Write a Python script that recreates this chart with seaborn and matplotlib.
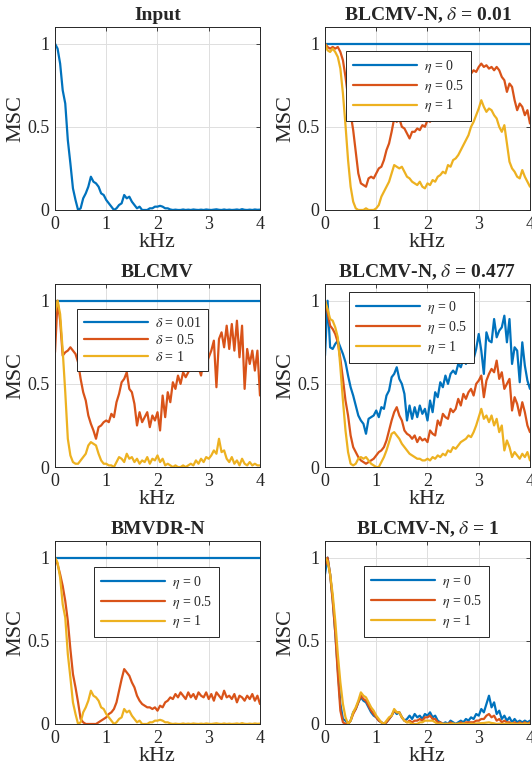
import numpy as np
import pandas as pd
import matplotlib
matplotlib.use("Agg")
import matplotlib.pyplot as plt
import seaborn as sns

# frequency grid (kHz) shared by the measured curves
khz = np.linspace(0, 4, 81)
# constant curves only need their end points
flat_khz = [0.0, 4.0]
flat_msc = [1.0, 1.0]

input_msc = [1.00, 0.97, 0.88, 0.72, 0.64, 0.42, 0.28, 0.13, 0.06, 0.00,
             0.01, 0.07, 0.10, 0.14, 0.20, 0.17, 0.16, 0.14, 0.10, 0.09,
             0.06, 0.04, 0.02, 0.00, 0.01, 0.03, 0.04, 0.09, 0.07, 0.08,
             0.05, 0.03, 0.01, 0.02, 0.00, 0.00, 0.00, 0.01, 0.01, 0.02,
             0.02, 0.025, 0.02, 0.01, 0.01, 0.003, 0.00, 0.002, 0.00, 0.00,
             0.003, 0.00, 0.002, 0.00, 0.003, 0.001, 0.00, 0.002, 0.00, 0.003,
             0.001, 0.00, 0.002, 0.004, 0.001, 0.00, 0.003, 0.00, 0.002, 0.00,
             0.001, 0.003, 0.00, 0.005, 0.001, 0.00, 0.002, 0.00, 0.003, 0.001,
             0.002]

# BLCMV-N, delta = 0.01
n001_eta05 = [1.00, 0.98, 0.97, 0.98, 0.97, 0.98, 0.95, 0.90, 0.80, 0.68,
              0.58, 0.48, 0.35, 0.22, 0.16, 0.15, 0.14, 0.19, 0.20, 0.19,
              0.22, 0.25, 0.26, 0.30, 0.36, 0.40, 0.47, 0.55, 0.53, 0.55,
              0.50, 0.49, 0.46, 0.43, 0.47, 0.47, 0.49, 0.48, 0.51, 0.50,
              0.54, 0.53, 0.56, 0.55, 0.58, 0.58, 0.60, 0.63, 0.65, 0.68,
              0.70, 0.72, 0.74, 0.76, 0.78, 0.79, 0.80, 0.82, 0.84, 0.83,
              0.86, 0.88, 0.86, 0.87, 0.85, 0.86, 0.84, 0.86, 0.84, 0.80,
              0.78, 0.71, 0.76, 0.74, 0.66, 0.60, 0.64, 0.62, 0.57, 0.60,
              0.52]
n001_eta1 = [1.00, 0.96, 0.95, 0.97, 0.95, 0.92, 0.85, 0.70, 0.51, 0.30,
             0.14, 0.05, 0.01, 0.00, 0.00, 0.00, 0.01, 0.00, 0.00, 0.00,
             0.01, 0.03, 0.08, 0.11, 0.14, 0.17, 0.22, 0.27, 0.26, 0.25,
             0.26, 0.23, 0.20, 0.19, 0.17, 0.16, 0.15, 0.17, 0.14, 0.13,
             0.16, 0.15, 0.18, 0.17, 0.20, 0.21, 0.23, 0.22, 0.27, 0.26,
             0.30, 0.31, 0.33, 0.36, 0.39, 0.42, 0.45, 0.50, 0.53, 0.57,
             0.61, 0.66, 0.62, 0.59, 0.61, 0.60, 0.57, 0.55, 0.50, 0.47,
             0.51, 0.40, 0.29, 0.25, 0.23, 0.20, 0.19, 0.24, 0.20, 0.17,
             0.14]

# BLCMV
blcmv_d05 = [0.69, 1.00, 0.88, 0.67, 0.69, 0.70, 0.72, 0.70, 0.68, 0.63,
             0.53, 0.45, 0.40, 0.31, 0.26, 0.22, 0.17, 0.24, 0.25, 0.27,
             0.28, 0.27, 0.32, 0.30, 0.39, 0.44, 0.51, 0.53, 0.57, 0.47,
             0.45, 0.38, 0.25, 0.33, 0.27, 0.30, 0.33, 0.24, 0.31, 0.28,
             0.33, 0.22, 0.43, 0.30, 0.45, 0.39, 0.51, 0.47, 0.55, 0.50,
             0.57, 0.54, 0.57, 0.60, 0.63, 0.58, 0.60, 0.55, 0.64, 0.62,
             0.66, 0.70, 0.76, 0.48, 0.77, 0.81, 0.72, 0.85, 0.71, 0.86,
             0.70, 0.88, 0.66, 0.85, 0.47, 0.71, 0.62, 0.70, 0.58, 0.70,
             0.43]
blcmv_d1 = [0.93, 1.00, 0.92, 0.70, 0.45, 0.17, 0.07, 0.03, 0.02, 0.02,
            0.04, 0.06, 0.08, 0.13, 0.15, 0.14, 0.13, 0.08, 0.04, 0.02,
            0.02, 0.01, 0.01, 0.00, 0.03, 0.06, 0.05, 0.03, 0.08, 0.05,
            0.06, 0.03, 0.05, 0.02, 0.04, 0.03, 0.06, 0.02, 0.05, 0.04,
            0.07, 0.03, 0.05, 0.01, 0.02, 0.01, 0.00, 0.01, 0.00, 0.00,
            0.01, 0.00, 0.01, 0.02, 0.01, 0.04, 0.02, 0.05, 0.03, 0.06,
            0.05, 0.07, 0.10, 0.08, 0.17, 0.09, 0.10, 0.05, 0.03, 0.06,
            0.02, 0.04, 0.01, 0.05, 0.02, 0.01, 0.03, 0.01, 0.02, 0.01,
            0.01]

# BLCMV-N, delta = 0.477
n477_eta0 = [0.67, 1.00, 0.72, 0.71, 0.74, 0.76, 0.72, 0.68, 0.63, 0.55,
             0.48, 0.43, 0.37, 0.31, 0.28, 0.26, 0.20, 0.29, 0.30, 0.31,
             0.34, 0.30, 0.36, 0.35, 0.43, 0.46, 0.54, 0.56, 0.60, 0.53,
             0.50, 0.44, 0.28, 0.37, 0.29, 0.36, 0.30, 0.37, 0.32, 0.35,
             0.28, 0.40, 0.33, 0.45, 0.42, 0.51, 0.48, 0.55, 0.50, 0.56,
             0.58, 0.56, 0.62, 0.60, 0.65, 0.62, 0.68, 0.70, 0.65, 0.71,
             0.80, 0.70, 0.56, 0.81, 0.76, 0.75, 0.89, 0.78, 0.82, 0.84,
             0.91, 0.75, 0.89, 0.62, 0.72, 0.70, 0.51, 0.75, 0.61, 0.52,
             0.47]
n477_eta05 = [1.00, 0.93, 0.85, 0.83, 0.80, 0.75, 0.65, 0.53, 0.40, 0.31,
              0.19, 0.12, 0.09, 0.06, 0.04, 0.03, 0.02, 0.03, 0.04, 0.05,
              0.07, 0.09, 0.10, 0.12, 0.16, 0.22, 0.28, 0.33, 0.36, 0.31,
              0.28, 0.22, 0.20, 0.19, 0.17, 0.19, 0.15, 0.18, 0.16, 0.17,
              0.15, 0.22, 0.20, 0.19, 0.28, 0.25, 0.32, 0.30, 0.29, 0.35,
              0.33, 0.35, 0.41, 0.37, 0.44, 0.41, 0.45, 0.47, 0.43, 0.50,
              0.52, 0.55, 0.42, 0.52, 0.56, 0.59, 0.57, 0.64, 0.53, 0.57,
              0.47, 0.50, 0.53, 0.34, 0.42, 0.38, 0.31, 0.39, 0.33, 0.25,
              0.21]
n477_eta1 = [1.00, 0.95, 0.89, 0.88, 0.84, 0.78, 0.60, 0.40, 0.22, 0.09,
             0.02, 0.01, 0.02, 0.05, 0.06, 0.05, 0.06, 0.04, 0.02, 0.01,
             0.00, 0.00, 0.03, 0.06, 0.10, 0.15, 0.20, 0.21, 0.19, 0.17,
             0.14, 0.12, 0.10, 0.08, 0.07, 0.06, 0.05, 0.05, 0.04, 0.04,
             0.05, 0.04, 0.06, 0.05, 0.07, 0.06, 0.08, 0.07, 0.10, 0.09,
             0.12, 0.11, 0.13, 0.15, 0.16, 0.17, 0.19, 0.18, 0.21, 0.25,
             0.30, 0.35, 0.29, 0.31, 0.27, 0.31, 0.25, 0.29, 0.21, 0.25,
             0.10, 0.16, 0.12, 0.06, 0.09, 0.07, 0.05, 0.08, 0.06, 0.09,
             0.04]

# BMVDR-N
bmvdr_eta05 = [1.00, 0.96, 0.90, 0.83, 0.74, 0.62, 0.45, 0.30, 0.22, 0.13,
               0.03, 0.01, 0.00, 0.00, 0.00, 0.00, 0.00, 0.01, 0.02, 0.03,
               0.04, 0.06, 0.07, 0.09, 0.13, 0.20, 0.27, 0.33, 0.31, 0.29,
               0.25, 0.22, 0.17, 0.14, 0.12, 0.11, 0.10, 0.10, 0.09, 0.10,
               0.08, 0.11, 0.10, 0.13, 0.14, 0.16, 0.15, 0.18, 0.16, 0.19,
               0.17, 0.15, 0.19, 0.16, 0.18, 0.15, 0.19, 0.17, 0.16, 0.19,
               0.15, 0.18, 0.14, 0.19, 0.17, 0.15, 0.20, 0.16, 0.17, 0.15,
               0.18, 0.13, 0.17, 0.16, 0.14, 0.17, 0.15, 0.18, 0.14, 0.17,
               0.12]
bmvdr_eta1 = [1.00, 0.97, 0.88, 0.72, 0.64, 0.42, 0.28, 0.13, 0.06, 0.00,
              0.01, 0.07, 0.10, 0.14, 0.20, 0.17, 0.16, 0.14, 0.10, 0.09,
              0.06, 0.04, 0.02, 0.00, 0.01, 0.03, 0.04, 0.09, 0.07, 0.08,
              0.05, 0.03, 0.01, 0.02, 0.00, 0.00, 0.00, 0.01, 0.01, 0.02,
              0.02, 0.025, 0.02, 0.01, 0.01, 0.003, 0.00, 0.002, 0.00, 0.00,
              0.003, 0.00, 0.002, 0.00, 0.003, 0.001, 0.00, 0.002, 0.00, 0.003,
              0.001, 0.00, 0.002, 0.004, 0.001, 0.00, 0.003, 0.00, 0.002, 0.00,
              0.001, 0.003, 0.00, 0.005, 0.001, 0.00, 0.002, 0.00, 0.003, 0.001,
              0.002]

# BLCMV-N, delta = 1
n1_eta0 = [0.90, 1.00, 0.90, 0.75, 0.55, 0.33, 0.12, 0.03, 0.02, 0.00,
           0.02, 0.07, 0.09, 0.13, 0.16, 0.14, 0.13, 0.10, 0.07, 0.05,
           0.04, 0.02, 0.01, 0.00, 0.01, 0.03, 0.05, 0.08, 0.06, 0.07,
           0.04, 0.02, 0.03, 0.05, 0.03, 0.06, 0.04, 0.05, 0.03, 0.06,
           0.05, 0.07, 0.04, 0.05, 0.02, 0.01, 0.00, 0.01, 0.00, 0.02,
           0.01, 0.00, 0.01, 0.02, 0.01, 0.03, 0.02, 0.04, 0.03, 0.06,
           0.05, 0.09, 0.07, 0.12, 0.17, 0.10, 0.13, 0.06, 0.08, 0.03,
           0.05, 0.02, 0.04, 0.01, 0.03, 0.01, 0.02, 0.01, 0.02, 0.01,
           0.02]
n1_eta05 = [0.95, 1.00, 0.90, 0.74, 0.55, 0.30, 0.08, 0.01, 0.00, 0.00,
            0.02, 0.06, 0.09, 0.13, 0.17, 0.15, 0.14, 0.11, 0.08, 0.06,
            0.04, 0.02, 0.01, 0.00, 0.01, 0.03, 0.05, 0.08, 0.07, 0.07,
            0.04, 0.02, 0.01, 0.02, 0.01, 0.02, 0.02, 0.03, 0.02, 0.04,
            0.04, 0.05, 0.03, 0.03, 0.01, 0.01, 0.00, 0.00, 0.00, 0.01,
            0.00, 0.00, 0.00, 0.01, 0.00, 0.01, 0.01, 0.01, 0.01, 0.02,
            0.02, 0.03, 0.03, 0.05, 0.06, 0.04, 0.05, 0.02, 0.03, 0.01,
            0.02, 0.01, 0.01, 0.00, 0.01, 0.00, 0.01, 0.00, 0.01, 0.00,
            0.01]
n1_eta1 = [1.00, 0.98, 0.90, 0.78, 0.62, 0.42, 0.25, 0.12, 0.04, 0.00,
           0.02, 0.07, 0.10, 0.14, 0.19, 0.17, 0.16, 0.13, 0.10, 0.08,
           0.05, 0.03, 0.01, 0.00, 0.02, 0.04, 0.05, 0.09, 0.07, 0.07,
           0.04, 0.02, 0.01, 0.01, 0.00, 0.00, 0.00, 0.01, 0.01, 0.02,
           0.02, 0.02, 0.02, 0.01, 0.00, 0.003, 0.00, 0.002, 0.00, 0.00,
           0.003, 0.00, 0.002, 0.00, 0.003, 0.001, 0.00, 0.002, 0.00, 0.003,
           0.004, 0.005, 0.006, 0.008, 0.01, 0.006, 0.004, 0.00, 0.002, 0.00,
           0.001, 0.003, 0.00, 0.004, 0.001, 0.00, 0.002, 0.00, 0.003, 0.001,
           0.002]

colors = ["#0072BD", "#D95319", "#EDB120"]

sns.set_theme(style="white")
plt.rcParams["font.family"] = ["Liberation Serif", "DejaVu Serif"]
plt.rcParams["mathtext.fontset"] = "stix"


def curves_frame(curves):
    parts = [pd.DataFrame({"kHz": x, "MSC": y, "curve": name}) for name, x, y in curves]
    return pd.concat(parts, ignore_index=True)


def draw_panel(ax, title, curves, legend_at=None):
    names = [c[0] for c in curves]
    sns.lineplot(data=curves_frame(curves), x="kHz", y="MSC", hue="curve",
                 hue_order=names, palette=colors[:len(names)], linewidth=1.6,
                 estimator=None, sort=False, ax=ax, legend=legend_at is not None)
    ax.set_xlim(0, 4)
    ax.set_ylim(0, 1.1)
    ax.set_xticks([0, 1, 2, 3, 4])
    ax.set_yticks([0, 0.5, 1])
    ax.set_yticklabels(["0", "0.5", "1"])
    ax.grid(True, color="#dedede", linewidth=0.7)
    ax.tick_params(direction="in", length=3, width=0.6, top=True, right=True,
                   labelsize=13, pad=4, colors="#262626")
    for sp in ax.spines.values():
        sp.set_color("#262626")
        sp.set_linewidth(0.7)
    ax.set_xlabel("kHz", fontsize=16, labelpad=0)
    ax.set_ylabel("MSC", fontsize=16, labelpad=1)
    ax.set_title(title, fontsize=14, fontweight="bold", pad=5)
    if legend_at is not None:
        handles, labels = ax.get_legend_handles_labels()
        leg = ax.legend(handles, labels, loc="upper left", bbox_to_anchor=legend_at,
                        fontsize=10, frameon=True, fancybox=False, framealpha=1,
                        edgecolor="#262626", handlelength=4.6, handletextpad=0.5,
                        labelspacing=0.2, borderpad=0.5, borderaxespad=0)
        leg.get_frame().set_linewidth(0.7)


fig = plt.figure(figsize=(5.32, 7.72), dpi=100)
w, h = 0.3853, 0.237
left_x, right_x = 0.1034, 0.6109
row_y = [0.728, 0.395, 0.0622]

ax = fig.add_axes([left_x, row_y[0], w, h])
draw_panel(ax, "Input", [("input", khz, input_msc)])

ax = fig.add_axes([right_x, row_y[0], w, h])
draw_panel(ax, r"BLCMV-N, $\delta$ = 0.01",
           [(r"$\eta$ = 0", flat_khz, flat_msc),
            (r"$\eta$ = 0.5", khz, n001_eta05),
            (r"$\eta$ = 1", khz, n001_eta1)], legend_at=(0.102, 0.869))

ax = fig.add_axes([left_x, row_y[1], w, h])
draw_panel(ax, "BLCMV",
           [(r"$\delta$ = 0.01", flat_khz, flat_msc),
            (r"$\delta$ = 0.5", khz, blcmv_d05),
            (r"$\delta$ = 1", khz, blcmv_d1)], legend_at=(0.107, 0.863))

ax = fig.add_axes([right_x, row_y[1], w, h])
draw_panel(ax, r"BLCMV-N, $\delta$ = 0.477",
           [(r"$\eta$ = 0", khz, n477_eta0),
            (r"$\eta$ = 0.5", khz, n477_eta05),
            (r"$\eta$ = 1", khz, n477_eta1)], legend_at=(0.117, 0.956))

ax = fig.add_axes([left_x, row_y[2], w, h])
draw_panel(ax, "BMVDR-N",
           [(r"$\eta$ = 0", flat_khz, flat_msc),
            (r"$\eta$ = 0.5", khz, bmvdr_eta05),
            (r"$\eta$ = 1", khz, bmvdr_eta1)], legend_at=(0.19, 0.858))

ax = fig.add_axes([right_x, row_y[2], w, h])
draw_panel(ax, r"BLCMV-N, $\delta$ = 1",
           [(r"$\eta$ = 0", khz, n1_eta0),
            (r"$\eta$ = 0.5", khz, n1_eta05),
            (r"$\eta$ = 1", khz, n1_eta1)], legend_at=(0.19, 0.863))

fig.savefig("out.png", dpi=100)
